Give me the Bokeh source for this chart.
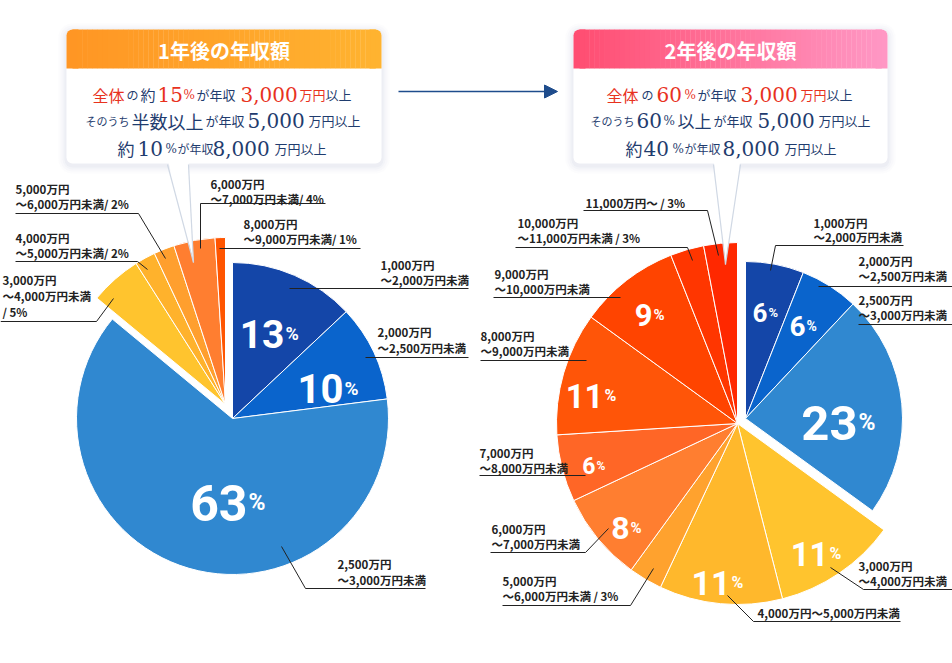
import math
from bokeh.plotting import figure
from bokeh.models import Range1d, Arrow, NormalHead
from bokeh.core.properties import value
from bokeh.embed import file_html
from bokeh.resources import INLINE

# ================= data =================
cats_1y = ["1,000万円〜2,000万円未満", "2,000万円〜2,500万円未満", "2,500万円〜3,000万円未満",
           "3,000万円〜4,000万円未満", "4,000万円〜5,000万円未満", "5,000万円〜6,000万円未満",
           "6,000万円〜7,000万円未満", "8,000万円〜9,000万円未満"]
pct_1y = [13, 10, 63, 5, 2, 2, 4, 1]

cats_2y = ["1,000万円〜2,000万円未満", "2,000万円〜2,500万円未満", "2,500万円〜3,000万円未満",
           "3,000万円〜4,000万円未満", "4,000万円〜5,000万円未満", "5,000万円〜6,000万円未満",
           "6,000万円〜7,000万円未満", "7,000万円〜8,000万円未満", "8,000万円〜9,000万円未満",
           "9,000万円〜10,000万円未満", "10,000万円〜11,000万円未満", "11,000万円〜"]
pct_2y = [6, 6, 23, 11, 11, 3, 8, 6, 11, 9, 3, 3]

titles = ["1年後の年収額", "2年後の年収額"]

# ================= styles / layout =================
W, H = 952, 663


def Y(v):
    return H - v


col_1y = ["#1446A8", "#0A64CC", "#3088D0", "#FFC42E", "#FFB22C", "#FF9F2E", "#FF7E30", "#FF5500"]
col_2y = ["#1446A8", "#0A64CC", "#3088D0", "#FFC42E", "#FFB82C", "#FFA22E", "#FF7E30",
          "#FF6626", "#FF5508", "#FF4400", "#FF3600", "#FF2800"]
grp_1y = [0, 0, 0, 1, 1, 1, 1, 1]
ctr_1y = [(232, 418, 156), (225, 404, 167)]
grp_2y = [0, 0, 0, 1, 1, 1, 1, 1, 1, 1, 1, 1]
ctr_2y = [(745, 418, 157), (737, 423, 181)]

RED = "#E8321E"
NAVY = "#1F3C6E"
INK = "#222222"
CJK = "Noto Sans CJK JP"
SERIF = "DejaVu Serif"
NUM = "Roboto"
LABEL_SIZE = "11.5px"

p = figure(width=W, height=H, x_range=Range1d(0, W), y_range=Range1d(0, H),
           output_backend="svg", toolbar_location=None, x_axis_type=None, y_axis_type=None,
           min_border=0)
p.outline_line_color = None
p.background_fill_color = "white"
p.border_fill_color = "white"


def mix(c0, c1, t):
    a = [int(c0[i:i + 2], 16) for i in (1, 3, 5)]
    b = [int(c1[i:i + 2], 16) for i in (1, 3, 5)]
    return "#%02x%02x%02x" % tuple(round(a[k] + (b[k] - a[k]) * t) for k in range(3))


def draw_box(x0, x1, top, hb, bot, c0, c1, title):
    for k, a in [(8, 0.04), (6, 0.05), (4, 0.06), (2, 0.08)]:
        p.quad(left=x0 - k, right=x1 + k, top=Y(top - k + 2), bottom=Y(bot + k + 2),
               fill_color="#A9B8CE", fill_alpha=a, line_color=None, border_radius=6 + k)
    p.quad(left=x0, right=x1, top=Y(top), bottom=Y(bot), fill_color="white",
           line_color=None, border_radius=6)
    p.quad(left=x0, right=x0 + 12, top=Y(top), bottom=Y(hb), fill_color=c0, line_color=None,
           border_radius=(6, 0, 0, 0))
    p.quad(left=x1 - 12, right=x1, top=Y(top), bottom=Y(hb), fill_color=c1, line_color=None,
           border_radius=(0, 6, 0, 0))
    n = 60
    w = (x1 - x0 - 12) / n
    ls = [x0 + 6 + i * w for i in range(n)]
    cs = [mix(c0, c1, (i + 0.5) / n) for i in range(n)]
    p.quad(left=ls, right=[l + w + 0.3 for l in ls], top=Y(top), bottom=Y(hb),
           fill_color=cs, line_color=None)
    p.text(x=[(x0 + x1) / 2], y=[Y((top + hb) / 2 + 1)], text=[title], text_color="white",
           text_font=value(CJK), text_font_size="20px", text_align="center",
           text_baseline="middle", text_font_style="bold")


draw_box(66, 381, 29, 68, 163, "#FF9624", "#FFB330", titles[0])
draw_box(573, 887, 29, 68, 163, "#FF4E72", "#FF97C4", titles[1])

# box body text segments: (x, baseline, text, size, color, font)
segs = [
    (92, 94, "全体", 16, RED, CJK), (126, 94, "の", 12, NAVY, CJK), (140, 94, "約", 15, NAVY, CJK),
    (157, 94, "15", 20, RED, SERIF), (183, 94, "%", 12, RED, SERIF),
    (196, 94, "が年収", 13, NAVY, CJK), (240, 94, "3,000", 20, RED, SERIF),
    (299, 94, "万円", 13, RED, CJK), (325, 94, "以上", 13, NAVY, CJK),
    (85, 120, "そのうち", 11, NAVY, CJK), (131, 120, "半数以上", 18, NAVY, CJK),
    (205, 120, "が年収", 13, NAVY, CJK), (247, 120, "5,000", 20, NAVY, SERIF),
    (308, 120, "万円以上", 13, NAVY, CJK),
    (117, 148, "約", 17, NAVY, CJK), (137, 148, "10", 20, NAVY, SERIF),
    (165, 148, "%", 12, NAVY, SERIF), (177, 148, "が年収", 12, NAVY, CJK),
    (212, 148, "8,000", 20, NAVY, SERIF), (274, 148, "万円以上", 13, NAVY, CJK),
    (606, 94, "全体", 16, RED, CJK), (641, 94, "の", 12, NAVY, CJK),
    (656, 94, "60", 20, RED, SERIF), (684, 94, "%", 12, RED, SERIF),
    (697, 94, "が年収", 13, NAVY, CJK), (740, 94, "3,000", 20, RED, SERIF),
    (800, 94, "万円", 13, RED, CJK), (826, 94, "以上", 13, NAVY, CJK),
    (590, 120, "そのうち", 11, NAVY, CJK), (636, 120, "60", 20, NAVY, SERIF),
    (663, 120, "%", 12, NAVY, SERIF), (677, 120, "以上", 17, NAVY, CJK),
    (713, 120, "が年収", 13, NAVY, CJK), (757, 120, "5,000", 20, NAVY, SERIF),
    (818, 120, "万円以上", 13, NAVY, CJK),
    (625, 148, "約", 17, NAVY, CJK), (643, 148, "40", 20, NAVY, SERIF),
    (672, 148, "%", 12, NAVY, SERIF), (684, 148, "が年収", 12, NAVY, CJK),
    (722, 148, "8,000", 20, NAVY, SERIF), (784, 148, "万円以上", 13, NAVY, CJK),
]
for sx, sy, t, sz, c, f in segs:
    p.text(x=[sx], y=[Y(sy)], text=[t], text_color=c, text_font=value(f),
           text_font_size=f"{sz}px", text_align="left", text_baseline="alphabetic")

p.add_layout(Arrow(end=NormalHead(size=13, fill_color="#1E4C8C", line_color="#1E4C8C"),
                   x_start=398, y_start=Y(91), x_end=557, y_end=Y(91),
                   line_color="#1E4C8C", line_width=1.3))


# ================= pies =================
def draw_pie(pcts, colors, groups, centers):
    total = float(sum(pcts))
    cum = 0.0
    xs, ys, rs, sa, ea = [], [], [], [], []
    for v, g in zip(pcts, groups):
        a0 = cum / total
        cum += v
        a1 = cum / total
        cx, cy, r = centers[g]
        xs.append(cx)
        ys.append(Y(cy))
        rs.append(r)
        sa.append(math.pi / 2 - 2 * math.pi * a0)
        ea.append(math.pi / 2 - 2 * math.pi * a1)
    p.wedge(x=xs, y=ys, radius=rs, start_angle=sa, end_angle=ea, direction="clock",
            fill_color=colors, line_color="white", line_width=1)


draw_pie(pct_1y, col_1y, grp_1y, ctr_1y)
draw_pie(pct_2y, col_2y, grp_2y, ctr_2y)

# callout tails
for (a, b, tx, ty) in [(167, 188, 193, 262), (713, 740, 725, 264)]:
    p.patch(x=[a, b, tx], y=[Y(158), Y(158), Y(ty)], fill_color="white", line_color=None)
    p.line(x=[a, tx], y=[Y(164), Y(ty)], line_color="#D0D8E4", line_width=1.2)
    p.line(x=[b, tx], y=[Y(164), Y(ty)], line_color="#D0D8E4", line_width=1.2)


# ================= labels =================
def label_lines(cat, pct, mode, sep):
    a, b = cat.split("〜")
    b = "〜" + b
    if mode == "2":
        return [a, b]
    if mode == "2p":
        return [a, b + sep + f"{pct}%"]
    if mode == "3p":
        return [a, b, f"/ {pct}%"]
    if mode == "1":
        return [cat]
    return [cat + sep + f"{pct}%"]


# (slice index, mode, sep, x, [line centre ys], underline (x0, x1, y), leader points)
lab_1y = [
    (0, "2", "", 380, [264, 279], (289, 468, 288), None),
    (1, "2", "", 377, [331, 347], (365, 468, 357), None),
    (2, "2", "", 337, [563, 579], (305, 425, 588), [(305, 588), (281, 546)]),
    (3, "3p", "", 2, [279, 295, 311], (0, 96, 321), [(96, 321), (113, 298)]),
    (4, "2p", "/ ", 15, [237, 252], (15, 137, 261), [(137, 261), (147, 269)]),
    (5, "2p", "/ ", 15, [188, 203], (15, 138, 213), [(138, 213), (165, 258)]),
    (6, "2p", "/ ", 210, [183, 198], (200, 325, 203), [(200, 203), (200, 248)]),
    (7, "2p", "/ ", 243, [223, 238], (219, 360, 248), None),
]
lab_2y = [
    (0, "2", "", 813, [222, 236], (775, 903, 245), [(775, 245), (770, 270)]),
    (1, "2", "", 858, [260, 275], (818, 952, 286), None),
    (2, "2", "", 858, [299, 314], (858, 952, 324), None),
    (3, "2", "", 858, [565, 580], (863, 952, 589), [(863, 589), (830, 567)]),
    (4, "1", "", 757, [612], (753, 900, 621), [(753, 621), (727, 595)]),
    (5, "2p", " / ", 502, [580, 595], (502, 630, 605), [(630, 605), (653, 568)]),
    (6, "2", "", 491, [528, 543], (490, 585, 552), [(585, 552), (608, 528)]),
    (7, "2", "", 479, [452, 467], (479, 585, 475), None),
    (8, "2", "", 480, [335, 350], (480, 586, 360), None),
    (9, "2", "", 494, [273, 288], (493, 620, 297), None),
    (10, "2p", " / ", 517, [222, 237], (515, 687, 247), [(687, 247), (692, 260)]),
    (11, "1p", " / ", 585, [202], (583, 707, 210), [(707, 210), (718, 255)]),
]

tx, ty, tt = [], [], []
mx, my = [], []
for cats, pcts, labs in [(cats_1y, pct_1y, lab_1y), (cats_2y, pct_2y, lab_2y)]:
    for i, mode, sep, x, ys_, ul, ld in labs:
        for yy, s in zip(ys_, label_lines(cats[i], pcts[i], mode, sep)):
            tx.append(x)
            ty.append(Y(yy))
            tt.append(s)
        mx.append([ul[0], ul[1]])
        my.append([Y(ul[2]), Y(ul[2])])
        if ld:
            mx.append([q[0] for q in ld])
            my.append([Y(q[1]) for q in ld])

p.multi_line(xs=mx, ys=my, line_color=INK, line_width=1)
p.text(x=tx, y=ty, text=tt, text_color=INK, text_font=value(CJK), text_font_size=LABEL_SIZE,
       text_font_style="bold", text_align="left", text_baseline="middle")

# percentage labels inside slices: (slice index, pivot x, baseline y, size)
pl_1y = [(0, 284, 333, 39), (1, 343, 388, 40), (2, 247, 502, 50)]
pl_2y = [(0, 767, 312, 26), (1, 805, 325, 28), (2, 857, 422, 49), (3, 828, 553, 33),
         (4, 730, 582, 34), (6, 629, 527, 32), (7, 595, 465, 23), (8, 603, 395, 33),
         (9, 652, 314, 31)]
for pcts, pls in [(pct_1y, pl_1y), (pct_2y, pl_2y)]:
    for i, px, py, sz in pls:
        p.text(x=[px], y=[Y(py)], text=[str(pcts[i])], text_color="white",
               text_font=value(NUM), text_font_size=f"{sz}px", text_font_style="bold",
               text_align="right", text_baseline="alphabetic")
        p.text(x=[px + 1], y=[Y(py)], text=["%"], text_color="white",
               text_font=value(NUM), text_font_size=f"{round(sz * 0.42 + 2)}px",
               text_font_style="bold", text_align="left", text_baseline="alphabetic")

open("out.html", "w").write(file_html(p, INLINE))
